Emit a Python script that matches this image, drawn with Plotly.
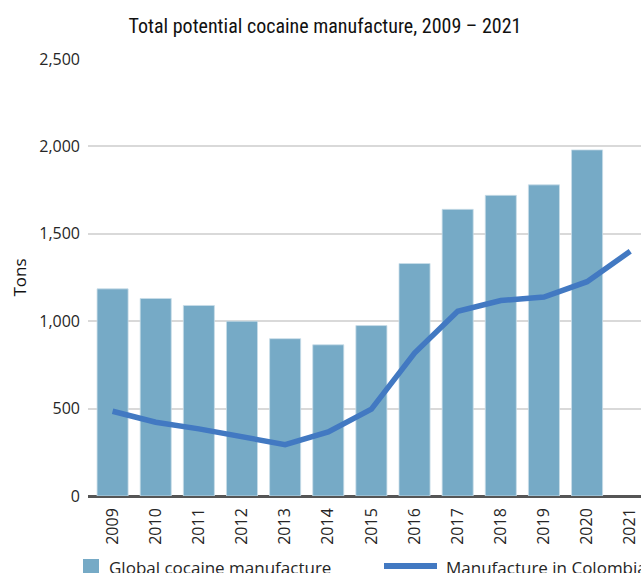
import plotly.graph_objects as go

# Potential cocaine manufacture, tons (pure)
years = ["2009", "2010", "2011", "2012", "2013", "2014", "2015",
         "2016", "2017", "2018", "2019", "2020", "2021"]
global_tons = [1185, 1130, 1090, 1000, 900, 865, 975,
               1330, 1640, 1720, 1780, 1980, None]
colombia_tons = [485, 422, 384, 336, 294, 367, 497,
                 818, 1057, 1118, 1138, 1226, 1400]
y_ticks = [0, 500, 1000, 1500, 2000, 2500]
y_tick_text = ["0", "500", "1,000", "1,500", "2,000", "2,500"]

BAR_COLOR = "#76AAC6"
LINE_COLOR = "#4279C2"
TEXT_COLOR = "#262626"
FONT = "Open Sans"
TITLE_FONT = "Liberation Sans Narrow, Roboto Condensed, Roboto"

W, H = 641, 573
M_L, M_R, M_T, M_B = 88, 0, 59, 77
PW = W - M_L - M_R
PH = H - M_T - M_B


def px_x(px):
    """Figure pixel column -> paper x."""
    return (px - M_L) / PW


def px_y(py):
    """Figure pixel row -> paper y."""
    return (H - M_B - py) / PH


fig = go.Figure()

fig.add_trace(go.Bar(
    x=years, y=global_tons,
    name="Global cocaine manufacture",
    marker=dict(color=BAR_COLOR, line=dict(color="#C9DDE8", width=0.8)),
    showlegend=False,
))

fig.add_trace(go.Scatter(
    x=years, y=colombia_tons,
    name="Manufacture in Colombia",
    mode="lines",
    line=dict(color=LINE_COLOR, width=5.5),
    showlegend=False,
))

# Legend drawn below the axis
shapes = [
    dict(type="rect", xref="paper", yref="paper",
         x0=px_x(83), x1=px_x(99), y0=px_y(559), y1=px_y(580),
         fillcolor=BAR_COLOR, line=dict(width=0)),
    dict(type="line", xref="paper", yref="paper",
         x0=px_x(384), x1=px_x(437), y0=px_y(566), y1=px_y(566),
         line=dict(color=LINE_COLOR, width=6)),
]
annotations = [
    dict(text="Global cocaine manufacture", xref="paper", yref="paper",
         x=px_x(107), y=px_y(554), xanchor="left", yanchor="top",
         showarrow=False, font=dict(family=FONT, size=17, color=TEXT_COLOR)),
    dict(text="Manufacture in Colombia", xref="paper", yref="paper",
         x=px_x(444), y=px_y(554), xanchor="left", yanchor="top",
         showarrow=False, font=dict(family=FONT, size=17, color=TEXT_COLOR)),
]

fig.update_layout(
    width=W, height=H,
    margin=dict(l=M_L, r=M_R, t=M_T, b=M_B, autoexpand=False),
    paper_bgcolor="white", plot_bgcolor="white",
    font=dict(family=FONT, size=16, color=TEXT_COLOR),
    title=dict(text="Total potential cocaine manufacture, 2009 \u2013 2021",
               x=0.507, xref="container", xanchor="center",
               y=1 - 26 / H, yanchor="middle",
               font=dict(family=TITLE_FONT, size=20, color="#111111")),
    bargap=0.28,
    shapes=shapes,
    annotations=annotations,
)

fig.update_xaxes(
    type="category",
    range=[-0.57, 12.25],
    tickangle=-90,
    showgrid=False,
    showline=False,
    ticks="",
    ticklabelstandoff=8,
    tickfont=dict(family=FONT, size=16, color=TEXT_COLOR),
)

fig.update_yaxes(
    range=[0, 2500],
    tickvals=y_ticks,
    ticktext=y_tick_text,
    showgrid=True, gridcolor="#D9D9D9", gridwidth=1.5,
    zeroline=True, zerolinecolor="#555555", zerolinewidth=2.5,
    showline=False, ticks="",
    ticklabelstandoff=7,
    tickfont=dict(family=FONT, size=16, color=TEXT_COLOR),
    title=dict(text="Tons", standoff=8,
               font=dict(family=FONT, size=17, color="#111111")),
)

fig.write_html("out.html")
